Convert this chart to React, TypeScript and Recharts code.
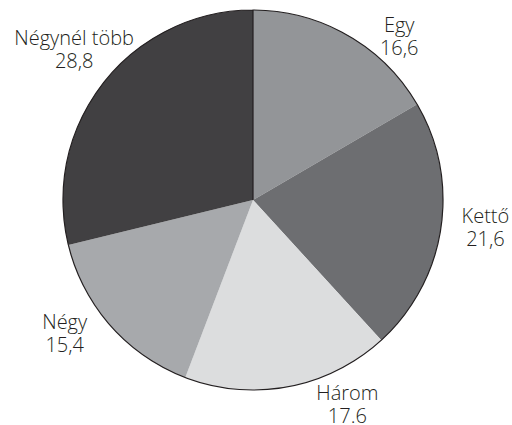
import { PieChart, Pie, Cell } from "recharts";

const CATEGORIES = ["Egy", "Kettő", "Három", "Négy", "Négynél több"];
const VALUES = [16.6, 21.6, 17.6, 15.4, 28.8];
const VALUE_LABELS = ["16,6", "21,6", "17.6", "15,4", "28,8"];

const COLORS = ["#939598", "#6d6e71", "#dcddde", "#a7a9ac", "#414042"];

// label placement: clockwise nudge from the slice mid-angle (deg) and distance from centre
const LABEL_NUDGE = [12, -2, -14, 6, 2];
const LABEL_RADIUS = [219, 234, 225, 231, 234];

const RADIAN = Math.PI / 180;
const TEXT = "#231f20";

const data = CATEGORIES.map((name, i) => ({
  name,
  value: VALUES[i],
  label: VALUE_LABELS[i],
}));

function renderLabel(props: any) {
  const { cx, cy, midAngle, index } = props;
  const angle = midAngle - LABEL_NUDGE[index];
  const r = LABEL_RADIUS[index];
  const x = cx + r * Math.cos(-angle * RADIAN);
  const y = cy + r * Math.sin(-angle * RADIAN);
  return (
    <text
      key={`lbl-${index}`}
      x={x}
      y={y - 4.5}
      textAnchor="middle"
      fill={TEXT}
      fontSize={20}
      fontWeight={300}
      fontFamily="'Open Sans', 'Noto Sans', sans-serif"
    >
      <tspan x={x}>{data[index].name}</tspan>
      <tspan x={x} dy={23}>
        {data[index].label}
      </tspan>
    </text>
  );
}

export default function App() {
  return (
    <div style={{ position: "absolute", left: 0, top: 0, background: "#fff" }}>
      <PieChart width={512} height={425} margin={{ top: 0, right: 0, bottom: 0, left: 0 }}>
        <Pie
          data={data}
          dataKey="value"
          cx={253}
          cy={200}
          outerRadius={190}
          startAngle={90}
          endAngle={-270}
          stroke="none"
          label={renderLabel}
          labelLine={false}
          isAnimationActive={false}
        >
          {data.map((d, i) => (
            <Cell key={d.name} fill={COLORS[i]} />
          ))}
        </Pie>
        <Pie
          data={[{ value: 1 }]}
          dataKey="value"
          cx={253}
          cy={200}
          outerRadius={190}
          startAngle={90}
          endAngle={-270}
          fill="none"
          stroke={TEXT}
          strokeWidth={1.2}
          isAnimationActive={false}
        />
      </PieChart>
    </div>
  );
}
